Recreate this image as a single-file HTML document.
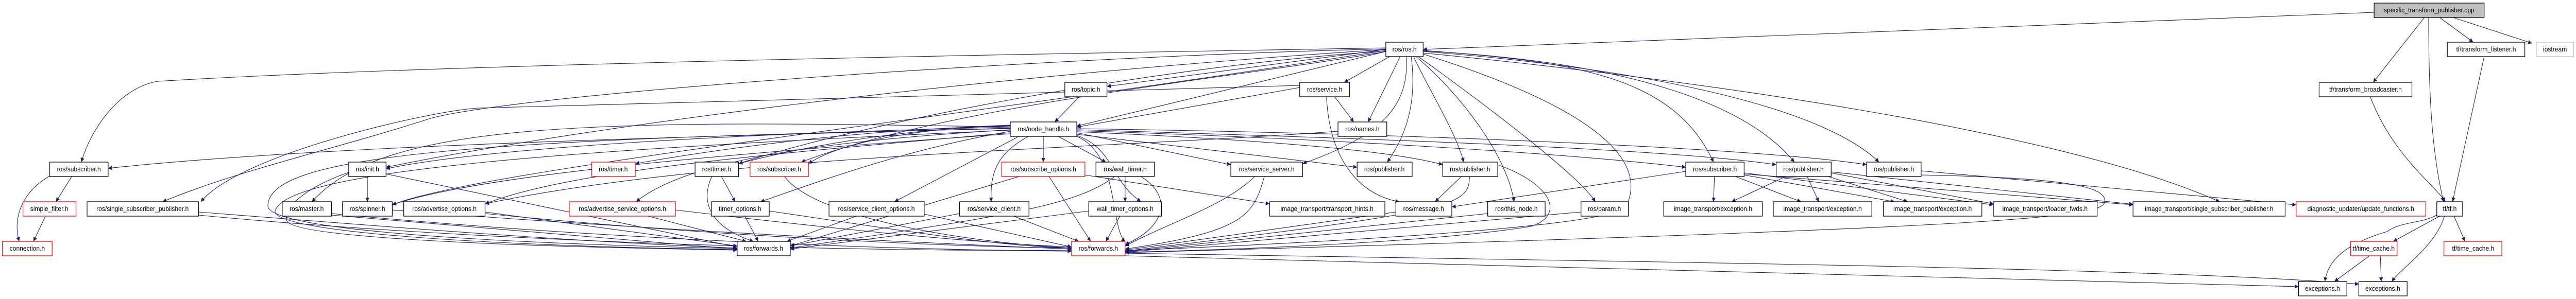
<!DOCTYPE html>
<html><head><meta charset="utf-8"><style>
html,body{margin:0;padding:0;background:#fff;width:100%;height:100%;overflow:hidden;}
svg{display:block;width:100vw;height:100vh;}
text{font-family:"Liberation Sans",sans-serif;font-size:13px;fill:#000;text-anchor:middle;}
.e{fill:none;stroke:#191970;stroke-width:1.1;marker-end:url(#a);}
.n{fill:#fff;stroke:#000;stroke-width:1.3;}
.r{fill:#fff;stroke:#ff0000;stroke-width:1.3;}
</style></head><body>
<svg viewBox="0 0 5385 581" preserveAspectRatio="none" xmlns="http://www.w3.org/2000/svg">
<defs><marker id="a" viewBox="0 0 10 10" refX="10" refY="5" markerWidth="11" markerHeight="8" markerUnits="userSpaceOnUse" orient="auto"><path d="M0,0 L10,5 L0,10z" fill="#191970"/></marker></defs>
<g>
<path class="e" d="M4963,24 L2975,96"/>
<path class="e" d="M2897,93 C2500,100 1000,120 330,158 C250,170 190,250 170,315"/>
<path class="e" d="M2897,95 C2200,110 1100,180 900,230 C700,290 500,330 340,392"/>
<path class="e" d="M2897,96 C2000,150 1200,250 807,325"/>
<path class="e" d="M2897,98 C2000,230 1000,330 820,398"/>
<path class="e" d="M2897,96 L2314,168"/>
<path class="e" d="M2905,110 L2810,160"/>
<path class="e" d="M2927,110 L2860,237"/>
<path class="e" d="M2897,100 L2251,245"/>
<path class="e" d="M2940,110 C2945,200 2900,260 2723,318"/>
<path class="e" d="M2950,110 C2960,180 2950,250 2900,315"/>
<path class="e" d="M2955,110 C2990,180 3040,250 3060,315"/>
<path class="e" d="M2960,110 C3050,180 3150,300 3165,392"/>
<path class="e" d="M2965,110 C3100,200 3300,340 3335,392"/>
<path class="e" d="M2975,98 C3300,120 3500,150 3582,315"/>
<path class="e" d="M2975,99 C3400,120 3650,200 3751,315"/>
<path class="e" d="M2975,100 C3400,130 3800,200 3928,315"/>
<path class="e" d="M2975,103 C3500,150 4300,250 4640,392"/>
<path class="e" d="M2897,99 C2400,130 1800,240 1544,318"/>
<path class="e" d="M2897,100 C2600,150 2000,200 1675,315"/>
<path class="e" d="M2975,105 C3300,200 3450,300 3400,400 C3380,440 2800,470 2352,487"/>
<path class="e" d="M5068,34 L4961,160"/>
<path class="e" d="M5077,34 C5077,200 5085,300 5108,392"/>
<path class="e" d="M5100,34 L5170,82"/>
<path class="e" d="M5128,34 L5293,84"/>
<path class="e" d="M5193,110 L5127,392"/>
<path class="e" d="M4955,188 C5000,300 5090,360 5112,392"/>
<path class="e" d="M5100,420 L5003,469"/>
<path class="e" d="M5130,420 L5153,469"/>
<path class="e" d="M5094,418 C5060,435 5020,430 4990,450 C4880,480 4865,520 4860,547"/>
<path class="e" d="M5110,420 C5090,480 5020,520 5000,547"/>
<path class="e" d="M4952,498 L4880,547"/>
<path class="e" d="M4976,498 L4978,547"/>
<path class="e" d="M2352,492 C3500,510 4500,520 4931,552"/>
<path class="e" d="M2352,497 C3500,520 4500,545 4805,557"/>
<path class="e" d="M2717,170 L2251,247"/>
<path class="e" d="M2790,188 L2830,237"/>
<path class="e" d="M2773,188 C2780,320 2850,380 2925,392"/>
<path class="e" d="M2717,166 C2200,180 1400,200 1000,210 C900,215 500,300 420,392"/>
<path class="e" d="M2256,188 L2205,237"/>
<path class="e" d="M2797,255 C2300,290 1500,300 1014,396"/>
<path class="e" d="M2181,265 L2181,315"/>
<path class="e" d="M2212,265 L2312,315"/>
<path class="e" d="M2251,258 L2573,320"/>
<path class="e" d="M2251,261 L2837,325"/>
<path class="e" d="M2150,265 C2080,300 2070,340 2072,392"/>
<path class="e" d="M2251,263 C2330,290 2320,350 2385,392"/>
<path class="e" d="M2251,265 C2340,300 2320,440 2352,470"/>
<path class="e" d="M2112,243 C1900,250 1750,280 1690,318"/>
<path class="e" d="M2112,244 C1900,250 1700,280 1544,318"/>
<path class="e" d="M2112,245 C1800,250 1500,290 1328,318"/>
<path class="e" d="M2112,247 C1500,260 1000,290 807,328"/>
<path class="e" d="M2112,249 C1500,265 700,280 226,327"/>
<path class="e" d="M2112,252 C1800,270 1450,300 1330,392"/>
<path class="e" d="M2112,255 C1900,290 1750,340 1590,392"/>
<path class="e" d="M2130,265 L1870,392"/>
<path class="e" d="M2112,258 C1600,300 1200,330 1014,396"/>
<path class="e" d="M2112,260 C1500,300 1000,340 820,398"/>
<path class="e" d="M2112,247 C1200,230 800,240 652,392"/>
<path class="e" d="M2251,256 C2600,270 2900,290 3016,320"/>
<path class="e" d="M2251,254 C2800,270 3300,300 3524,325"/>
<path class="e" d="M2251,252 C2900,270 3500,290 3713,320"/>
<path class="e" d="M2251,250 C3000,260 3700,290 3902,320"/>
<path class="e" d="M2112,250 C1000,270 560,300 560,400 C560,440 900,470 1541,483"/>
<path class="e" d="M2112,253 C1200,290 600,330 575,410 C570,450 1000,478 1541,485"/>
<path class="e" d="M150,343 L117,392"/>
<path class="e" d="M104,342 C50,370 25,420 40,469"/>
<path class="e" d="M95,420 L70,469"/>
<path class="e" d="M768,343 L768,392"/>
<path class="e" d="M807,338 L1541,480"/>
<path class="e" d="M729,335 C650,360 590,400 600,430 C620,460 1000,478 1541,486"/>
<path class="e" d="M415,412 C800,440 1200,470 1541,482"/>
<path class="e" d="M415,418 C1000,470 1800,490 2240,486"/>
<path class="e" d="M693,418 L1541,484"/>
<path class="e" d="M693,415 C1200,460 1800,485 2240,488"/>
<path class="e" d="M820,408 C1400,450 2000,475 2240,484"/>
<path class="e" d="M1014,412 L1541,478"/>
<path class="e" d="M1014,415 C1500,460 2000,480 2240,482"/>
<path class="e" d="M1355,420 L1560,469"/>
<path class="e" d="M1412,408 C1700,440 2000,470 2240,480"/>
<path class="e" d="M1508,343 L1537,392"/>
<path class="e" d="M1488,343 C1465,390 1480,440 1575,469"/>
<path class="e" d="M1557,420 L1585,469"/>
<path class="e" d="M1608,410 C1900,450 2100,480 2240,482"/>
<path class="e" d="M1640,343 C1700,420 2000,470 2240,482"/>
<path class="e" d="M1790,420 L1645,469"/>
<path class="e" d="M1932,416 L2240,480"/>
<path class="e" d="M2119,420 L2255,469"/>
<path class="e" d="M2006,415 L1652,478"/>
<path class="e" d="M2193,343 L2280,469"/>
<path class="e" d="M2268,340 L2654,396"/>
<path class="e" d="M2130,343 L1652,478"/>
<path class="e" d="M2352,343 L2352,392"/>
<path class="e" d="M2385,343 C2450,380 2440,440 2352,475"/>
<path class="e" d="M2330,343 C2250,400 2100,420 1652,482"/>
<path class="e" d="M2341,420 L2312,469"/>
<path class="e" d="M2276,410 L1652,484"/>
<path class="e" d="M2623,343 C2560,400 2450,430 2352,478"/>
<path class="e" d="M2643,343 C2620,420 2600,450 2352,484"/>
<path class="e" d="M2918,412 L2352,486"/>
<path class="e" d="M3055,343 L3000,392"/>
<path class="e" d="M3072,343 C3070,400 3050,410 2352,488"/>
<path class="e" d="M3131,320 C3250,360 3270,420 3200,440 C3000,470 2600,485 2352,490"/>
<path class="e" d="M3110,415 L2352,489"/>
<path class="e" d="M3305,412 L2352,490"/>
<path class="e" d="M3584,343 L3582,392"/>
<path class="e" d="M3628,343 L3765,392"/>
<path class="e" d="M3646,340 L3960,392"/>
<path class="e" d="M3646,336 L4167,398"/>
<path class="e" d="M3524,333 L3035,402"/>
<path class="e" d="M3646,338 L4459,398"/>
<path class="e" d="M3733,343 L3620,392"/>
<path class="e" d="M3778,343 L3802,392"/>
<path class="e" d="M3822,343 L3988,392"/>
<path class="e" d="M3828,336 L4167,396"/>
<path class="e" d="M3828,334 L4459,397"/>
<path class="e" d="M4016,332 L4800,398"/>
<path class="e" d="M4016,340 C4300,345 4400,360 4400,390 C4400,420 4300,440 2352,491"/>
</g>
<g>
<rect x="4963" y="6" width="230" height="28" fill="#bfbfbf" stroke="#000" stroke-width="1.3"/><text x="5078" y="24">specific_transform_publisher.cpp</text>
<rect class="n" x="2897" y="82" width="78" height="28"/><text x="2936" y="100">ros/ros.h</text>
<rect class="n" x="5116" y="82" width="162" height="28"/><text x="5197" y="100">tf/transform_listener.h</text>
<rect x="5302" y="82" width="78" height="28" fill="#fff" stroke="#bfbfbf" stroke-width="1.3"/><text x="5341" y="100">iostream</text>
<rect class="n" x="2226" y="160" width="88" height="28"/><text x="2270" y="178">ros/topic.h</text>
<rect class="n" x="2717" y="160" width="104" height="28"/><text x="2769" y="178">ros/service.h</text>
<rect class="n" x="4848" y="160" width="194" height="28"/><text x="4945" y="178">tf/transform_broadcaster.h</text>
<rect class="n" x="2112" y="237" width="139" height="28"/><text x="2181" y="255">ros/node_handle.h</text>
<rect class="n" x="2797" y="237" width="102" height="28"/><text x="2848" y="255">ros/names.h</text>
<rect class="n" x="104" y="315" width="122" height="28"/><text x="165" y="333">ros/subscriber.h</text>
<rect class="n" x="729" y="315" width="78" height="28"/><text x="768" y="333">ros/init.h</text>
<rect class="r" x="1237" y="315" width="91" height="28"/><text x="1282" y="333">ros/timer.h</text>
<rect class="n" x="1453" y="315" width="91" height="28"/><text x="1498" y="333">ros/timer.h</text>
<rect class="r" x="1568" y="315" width="122" height="28"/><text x="1629" y="333">ros/subscriber.h</text>
<rect class="r" x="2094" y="315" width="174" height="28"/><text x="2181" y="333">ros/subscribe_options.h</text>
<rect class="n" x="2291" y="315" width="122" height="28"/><text x="2352" y="333">ros/wall_timer.h</text>
<rect class="n" x="2573" y="315" width="150" height="28"/><text x="2648" y="333">ros/service_server.h</text>
<rect class="n" x="2837" y="315" width="115" height="28"/><text x="2894" y="333">ros/publisher.h</text>
<rect class="n" x="3016" y="315" width="115" height="28"/><text x="3073" y="333">ros/publisher.h</text>
<rect class="n" x="3524" y="315" width="122" height="28"/><text x="3585" y="333">ros/subscriber.h</text>
<rect class="n" x="3713" y="315" width="115" height="28"/><text x="3770" y="333">ros/publisher.h</text>
<rect class="n" x="3902" y="315" width="114" height="28"/><text x="3959" y="333">ros/publisher.h</text>
<rect class="r" x="48" y="392" width="111" height="28"/><text x="103" y="410">simple_filter.h</text>
<rect class="n" x="182" y="392" width="233" height="28"/><text x="298" y="410">ros/single_subscriber_publisher.h</text>
<rect class="n" x="590" y="392" width="103" height="28"/><text x="641" y="410">ros/master.h</text>
<rect class="n" x="716" y="392" width="104" height="28"/><text x="768" y="410">ros/spinner.h</text>
<rect class="n" x="844" y="392" width="170" height="28"/><text x="929" y="410">ros/advertise_options.h</text>
<rect class="r" x="1190" y="392" width="222" height="28"/><text x="1301" y="410">ros/advertise_service_options.h</text>
<rect class="n" x="1487" y="392" width="121" height="28"/><text x="1547" y="410">timer_options.h</text>
<rect class="n" x="1733" y="392" width="199" height="28"/><text x="1832" y="410">ros/service_client_options.h</text>
<rect class="n" x="2006" y="392" width="145" height="28"/><text x="2078" y="410">ros/service_client.h</text>
<rect class="n" x="2276" y="392" width="152" height="28"/><text x="2352" y="410">wall_timer_options.h</text>
<rect class="n" x="2654" y="392" width="241" height="28"/><text x="2774" y="410">image_transport/transport_hints.h</text>
<rect class="n" x="2918" y="392" width="117" height="28"/><text x="2976" y="410">ros/message.h</text>
<rect class="n" x="3110" y="392" width="120" height="28"/><text x="3170" y="410">ros/this_node.h</text>
<rect class="n" x="3305" y="392" width="99" height="28"/><text x="3354" y="410">ros/param.h</text>
<rect class="n" x="3478" y="392" width="206" height="28"/><text x="3581" y="410">image_transport/exception.h</text>
<rect class="n" x="3707" y="392" width="206" height="28"/><text x="3810" y="410">image_transport/exception.h</text>
<rect class="n" x="3937" y="392" width="206" height="28"/><text x="4040" y="410">image_transport/exception.h</text>
<rect class="n" x="4167" y="392" width="217" height="28"/><text x="4275" y="410">image_transport/loader_fwds.h</text>
<rect class="n" x="4459" y="392" width="318" height="28"/><text x="4618" y="410">image_transport/single_subscriber_publisher.h</text>
<rect class="r" x="4800" y="392" width="271" height="28"/><text x="4935" y="410">diagnostic_updater/update_functions.h</text>
<rect class="n" x="5094" y="392" width="54" height="28"/><text x="5121" y="410">tf/tf.h</text>
<rect class="r" x="5" y="469" width="104" height="28"/><text x="57" y="487">connection.h</text>
<rect class="n" x="1541" y="469" width="111" height="28"/><text x="1596" y="487">ros/forwards.h</text>
<rect class="r" x="2240" y="469" width="112" height="28"/><text x="2296" y="487">ros/forwards.h</text>
<rect class="r" x="4914" y="469" width="97" height="28"/><text x="4962" y="487">tf/time_cache.h</text>
<rect class="r" x="5109" y="469" width="121" height="28"/><text x="5170" y="487">tf/time_cache.h</text>
<rect class="n" x="4805" y="547" width="101" height="28"/><text x="4855" y="565">exceptions.h</text>
<rect class="n" x="4931" y="547" width="101" height="28"/><text x="4981" y="565">exceptions.h</text>
</g>
</svg>
</body></html>
